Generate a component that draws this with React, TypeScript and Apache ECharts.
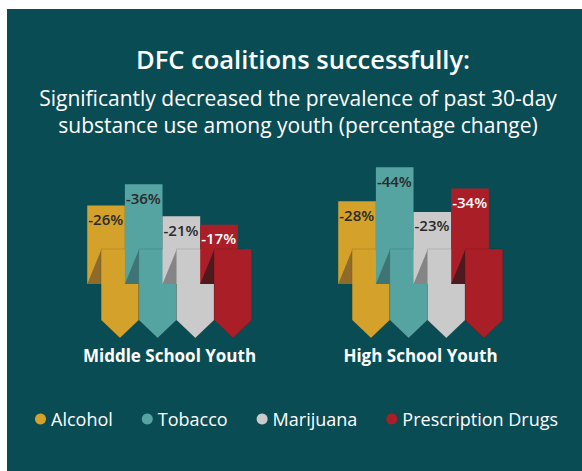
import React, { useEffect, useRef } from "react";
import * as echarts from "echarts";

const groups = ["Middle School Youth", "High School Youth"];
const substances = ["Alcohol", "Tobacco", "Marijuana", "Prescription Drugs"];
const middleSchool = [-26, -36, -21, -17];
const highSchool = [-28, -44, -23, -34];

const colors = ["#d4a12b", "#55a4a1", "#cbcaca", "#aa1f27"];
const foldColors = ["#8f6b2b", "#3e7574", "#858585", "#4f1a1e"];
const labelColors = ["#2a2a2a", "#2a2a2a", "#2a2a2a", "#ffffff"];

const BG = "#0a4c54";
const FONT = "'Open Sans', Lato, sans-serif";

export default function App() {
  const ref = useRef<HTMLDivElement>(null);
  useEffect(() => {
    if (!ref.current) return;
    const chart = echarts.init(ref.current, null, { renderer: "svg" });

    const makeRender = (idx: number) => (params: any, api: any) => {
      const cat = api.value(0);
      const v = api.value(1);
      const top = api.coord([cat, v]);
      const y0 = api.coord([cat, 0])[1];
      const band = api.size([1, 0])[0];
      const bw = band * 0.15;
      const off = bw * 0.37;
      const start = top[0] - (4 * bw + off) / 2;
      const bx = start + idx * bw;
      const fx = bx + off;
      const yTop = top[1];
      const backBottom = y0 + 23;
      const frontTop = y0 - 12;
      const frontBottom = y0 + 59;
      const tip = y0 + 77;
      return {
        type: "group",
        children: [
          {
            type: "rect",
            shape: { x: bx, y: yTop, width: bw, height: backBottom - yTop },
            style: { fill: colors[idx] },
          },
          {
            type: "polygon",
            shape: {
              points: [
                [fx, frontTop + 1],
                [bx, backBottom],
                [fx, backBottom],
              ],
            },
            style: { fill: foldColors[idx] },
          },
          {
            type: "polygon",
            shape: {
              points: [
                [fx, frontTop],
                [fx + bw, frontTop],
                [fx + bw, frontBottom],
                [fx + bw / 2, tip],
                [fx, frontBottom],
              ],
            },
            style: {
              fill: colors[idx],
              stroke: "rgba(0,0,0,0.12)",
              lineWidth: 1,
            },
          },
          {
            type: "text",
            style: {
              text: v + "%",
              x: bx + 1,
              y: yTop + 13.5,
              verticalAlign: "middle",
              align: "left",
              fill: labelColors[idx],
              fontSize: 15,
              fontWeight: 600,
              fontFamily: FONT,
            },
          },
        ],
      };
    };

    const series = substances.map((name, i) => ({
      type: "custom",
      name,
      itemStyle: { color: colors[i] },
      renderItem: makeRender(i),
      data: [
        [0, middleSchool[i]],
        [1, highSchool[i]],
      ],
    }));

    chart.setOption({
      animation: false,
      backgroundColor: "#ffffff",
      graphic: [
        {
          type: "rect",
          z: -10,
          shape: { x: 7, y: 9, width: 575, height: 462 },
          style: { fill: BG },
        },
      ],
      title: [
        {
          text: "DFC coalitions successfully:",
          left: 298,
          top: 39,
          textAlign: "center",
          textStyle: {
            color: "#ffffff",
            fontSize: 25.5,
            fontWeight: 600,
            fontFamily: FONT,
            lineHeight: 30,
          },
        },
        {
          text: "Significantly decreased the prevalence of past 30-day\nsubstance use among youth (percentage change)",
          left: 293,
          top: 79,
          textAlign: "center",
          textStyle: {
            color: "#ffffff",
            fontSize: 21,
            fontWeight: "normal",
            fontFamily: FONT,
            lineHeight: 27,
          },
        },
      ],
      legend: {
        data: substances,
        left: 30,
        top: 405,
        icon: "circle",
        itemWidth: 11,
        itemHeight: 11,
        itemGap: 29,
        textStyle: { color: "#ffffff", fontSize: 18, fontFamily: FONT },
      },
      grid: { left: 44, right: 36, top: 133, bottom: 210 },
      xAxis: {
        type: "category",
        data: groups,
        axisLine: { show: false },
        axisTick: { show: false },
        axisLabel: {
          color: "#ffffff",
          fontSize: 17,
          fontWeight: "bold",
          fontFamily: FONT,
          margin: 86,
        },
      },
      yAxis: {
        type: "value",
        inverse: true,
        min: -60,
        max: 0,
        show: false,
        splitLine: { show: false },
      },
      series,
    });
    return () => chart.dispose();
  }, []);
  return (
    <div
      ref={ref}
      style={{ position: "absolute", left: 0, top: 0, width: 582, height: 471 }}
    />
  );
}
